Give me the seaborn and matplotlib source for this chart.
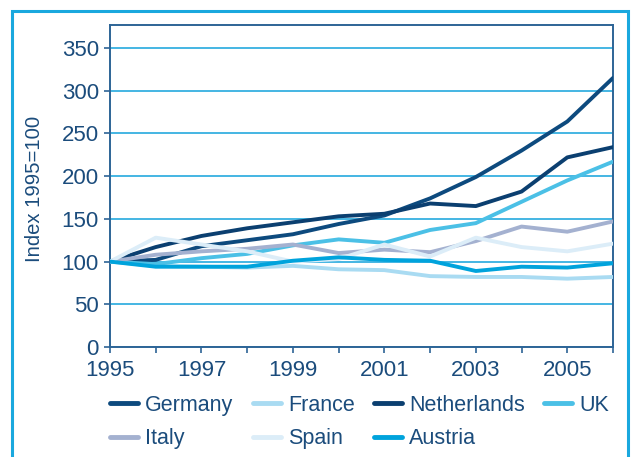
import numpy as np
import pandas as pd
import matplotlib
matplotlib.use("Agg")
import matplotlib.pyplot as plt
import seaborn as sns
from matplotlib.patches import Rectangle
from matplotlib.lines import Line2D

years = list(range(1995, 2007))
germany = [100, 102, 118, 125, 132, 144, 154, 174, 199, 230, 264, 315]
france = [100, 95, 94, 93, 95, 91, 90, 83, 82, 82, 80, 82]
netherlands = [100, 117, 130, 139, 146, 153, 156, 168, 165, 182, 222, 234]
uk = [100, 97, 104, 109, 119, 126, 122, 137, 145, 170, 195, 217]
italy = [100, 108, 112, 115, 120, 110, 114, 111, 124, 141, 135, 147]
spain = [100, 128, 120, 112, 100, 103, 120, 106, 128, 117, 112, 121]
austria = [100, 94, 94, 94, 101, 105, 102, 101, 89, 94, 93, 98]

countries = ["Germany", "France", "Netherlands", "UK", "Italy", "Spain", "Austria"]
series = [germany, france, netherlands, uk, italy, spain, austria]
colors = ["#0d4a7e", "#a9dbf2", "#0b3f70", "#4bc0e6", "#a4b1d0", "#dcedf8", "#00a3dc"]

rows = []
for c, vals in zip(countries, series):
    for y, v in zip(years, vals):
        rows.append({"Year": y, "Index": v, "Country": c})
df = pd.DataFrame(rows)

sns.set_style("white")
plt.rcParams['font.family'] = ['Liberation Sans', 'DejaVu Sans']
text_color = "#1b4c7c"
spine_color = "#2d6496"
grid_color = "#36b0e0"

fig = plt.figure(figsize=(6.31, 4.57), dpi=100)
ax = fig.add_axes([110/631, 1-347/457, (613-110)/631, (347-25)/457])

for v in range(0, 351, 50):
    ax.axhline(v, color=grid_color, lw=1.3, zorder=1)

sns.lineplot(data=df, x="Year", y="Index", hue="Country", hue_order=countries,
             palette=dict(zip(countries, colors)), linewidth=2.8, ax=ax,
             legend=False, zorder=3)

ax.set_xlim(1995, 2006)
ax.set_ylim(0, 377)
ax.set_xticks(years)
ax.set_xticklabels([str(y) if (y - 1995) % 2 == 0 else "" for y in years])
ax.set_yticks(range(0, 351, 50))
ax.tick_params(axis="both", which="both", direction="out", length=4, width=1.2,
               color=spine_color, labelcolor=text_color, labelsize=16, pad=4,
               left=True, bottom=True)
ax.tick_params(axis="x", pad=5)
for s in ax.spines.values():
    s.set_color(spine_color)
    s.set_linewidth(1.4)
ax.set_xlabel("")
ax.set_ylabel("Index 1995=100", color=text_color, fontsize=14.6)
ax.yaxis.set_label_coords(-66/503, 0.49)

handles = {c: Line2D([0], [0], color=col, lw=3.5) for c, col in zip(countries, colors)}
order = ["Germany", "Italy", "France", "Spain", "Netherlands", "Austria", "UK"]
leg = fig.legend([handles[c] for c in order], order, ncol=4, frameon=False,
                 loc="upper left", bbox_to_anchor=(110/631, 1-395/457),
                 fontsize=15.5, handlelength=1.3, handletextpad=0.33,
                 columnspacing=0.9, labelspacing=0.56, borderaxespad=0, borderpad=0)
for t in leg.get_texts():
    t.set_color(text_color)

fig.patches.append(Rectangle((12/631, -0.05), (628-12)/631, 1.05-11/457,
                             transform=fig.transFigure, fill=False,
                             edgecolor="#1aa8de", lw=2.2, zorder=0))

fig.savefig("out.png", dpi=100)
